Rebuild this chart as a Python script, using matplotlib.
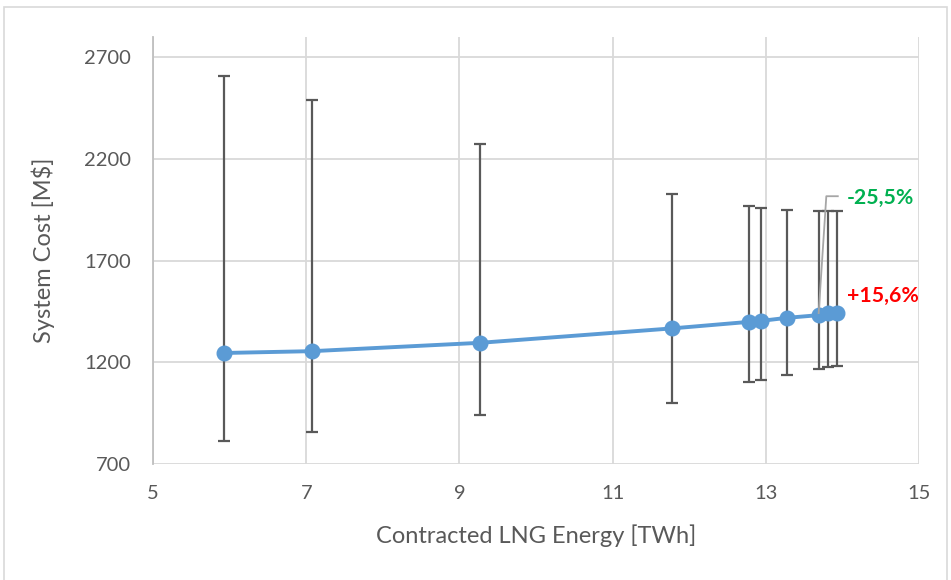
import matplotlib
matplotlib.use("Agg")
import matplotlib.pyplot as plt
from matplotlib.patches import Rectangle
import numpy as np

# Contracted LNG energy [TWh] and expected system cost [M$] with min/max range
lng_energy = [5.93, 7.08, 9.27, 11.78, 12.78, 12.94, 13.28, 13.69, 13.81, 13.93]
system_cost = [1246, 1255, 1296, 1367, 1399, 1404, 1419, 1432, 1441, 1445]
cost_max = [2607, 2490, 2272, 2027, 1969, 1961, 1948, 1943, 1943, 1943]
cost_min = [815, 859, 942, 1001, 1103, 1113, 1136, 1167, 1177, 1184]

x_ticks = [5, 7, 9, 11, 13, 15]
y_ticks = [700, 1200, 1700, 2200, 2700]

label_low = "-25,5%"
label_high = "+15,6%"

plt.rcParams["font.family"] = ["Lato", "DejaVu Sans"]

fig = plt.figure(figsize=(9.51, 5.80), dpi=100)
ax = fig.add_axes([153 / 951, 1 - 464 / 580, (919 - 153) / 951, (464 - 37) / 580])

# light frame around the whole chart area
fig.patches.append(Rectangle((4 / 951, -0.05), 943 / 951, 1.05 - 7 / 580,
                             transform=fig.transFigure, fill=False,
                             edgecolor="#D9D9D9", linewidth=1.2))

cost = np.array(system_cost)
yerr = np.vstack([cost - np.array(cost_min), np.array(cost_max) - cost])

ax.errorbar(lng_energy, system_cost, yerr=yerr, fmt="none", ecolor="#595959",
            elinewidth=1.6, capsize=4.3, capthick=1.6, zorder=3)
ax.plot(lng_energy, system_cost, color="#5B9BD5", linewidth=2.8,
        marker="o", markersize=10.5, markerfacecolor="#5B9BD5",
        markeredgecolor="#5B9BD5", zorder=4)

ax.set_xlim(5, 15)
ax.set_ylim(700, 2800)
ax.set_xticks(x_ticks)
ax.set_yticks(y_ticks)
ax.grid(True, color="#D9D9D9", linewidth=1.3)
ax.set_axisbelow(True)
for side in ["top", "right", "bottom"]:
    ax.spines[side].set_visible(False)
ax.spines["left"].set_color("#BFBFBF")
ax.spines["left"].set_linewidth(1.3)
ax.tick_params(length=0, labelsize=14.5, colors="#595959")
ax.tick_params(axis="y", pad=16)
ax.tick_params(axis="x", pad=15)

ax.set_xlabel("Contracted LNG Energy [TWh]", fontsize=17, color="#595959", labelpad=16)
ax.set_ylabel("System Cost [M$]", fontsize=17, color="#595959", labelpad=21)

# leader line from the label to its point
ax.plot([lng_energy[7], 13.79, 13.94], [system_cost[7] + 10, 2017, 2017],
        color="#A6A6A6", linewidth=1.3, zorder=5, clip_on=False)
ax.text(14.06, 2007, label_low, color="#00B050", fontsize=15.3, fontweight="bold",
        va="center", ha="left", zorder=6)
ax.text(14.06, 1526, label_high, color="#FF0000", fontsize=15.3, fontweight="bold",
        va="center", ha="left", zorder=6)

fig.savefig("out.png", dpi=100)
